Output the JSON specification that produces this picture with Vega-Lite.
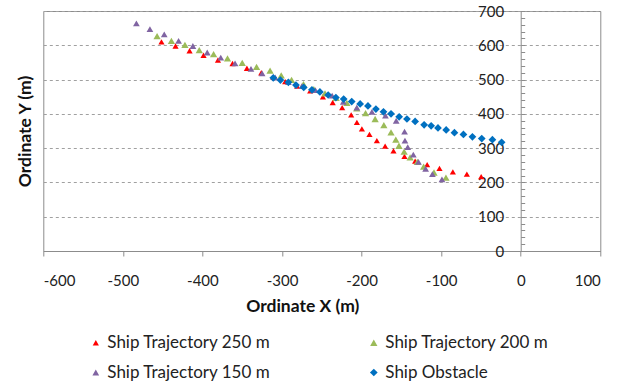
{
  "$schema": "https://vega.github.io/schema/vega-lite/v6.json",
  "autosize": "none",
  "width": 557,
  "height": 240,
  "padding": {"left": 43.3, "top": 11, "right": 25.7, "bottom": 134},
  "background": "white",
  "config": {
    "font": "Lato",
    "view": {"stroke": "#8c8c8c", "strokeWidth": 1},
    "axis": {"labelColor": "#222", "titleColor": "#111", "labelFont": "Lato", "titleFont": "Lato"}
  },
  "data": {"values": [
    {"s":"Ship Trajectory 250 m","x":-451.5,"y":610},{"s":"Ship Trajectory 250 m","x":-433.8,"y":598},{"s":"Ship Trajectory 250 m","x":-416.2,"y":584},{"s":"Ship Trajectory 250 m","x":-398.6,"y":571},{"s":"Ship Trajectory 250 m","x":-380.5,"y":557},{"s":"Ship Trajectory 250 m","x":-362.2,"y":547},{"s":"Ship Trajectory 250 m","x":-344.1,"y":533},{"s":"Ship Trajectory 250 m","x":-326.1,"y":520},{"s":"Ship Trajectory 250 m","x":-311,"y":507},{"s":"Ship Trajectory 250 m","x":-296,"y":494},{"s":"Ship Trajectory 250 m","x":-281,"y":481},{"s":"Ship Trajectory 250 m","x":-264.6,"y":467},{"s":"Ship Trajectory 250 m","x":-248.6,"y":450},{"s":"Ship Trajectory 250 m","x":-236.3,"y":433},{"s":"Ship Trajectory 250 m","x":-224.4,"y":418},{"s":"Ship Trajectory 250 m","x":-213.1,"y":397},{"s":"Ship Trajectory 250 m","x":-205.9,"y":375},{"s":"Ship Trajectory 250 m","x":-199.6,"y":356},{"s":"Ship Trajectory 250 m","x":-190.1,"y":340},{"s":"Ship Trajectory 250 m","x":-180.8,"y":322},{"s":"Ship Trajectory 250 m","x":-170.4,"y":306},{"s":"Ship Trajectory 250 m","x":-159.9,"y":292},{"s":"Ship Trajectory 250 m","x":-146.1,"y":276},{"s":"Ship Trajectory 250 m","x":-132.7,"y":262},{"s":"Ship Trajectory 250 m","x":-117.6,"y":252},{"s":"Ship Trajectory 250 m","x":-102.1,"y":241},{"s":"Ship Trajectory 250 m","x":-85.3,"y":231},{"s":"Ship Trajectory 250 m","x":-67.7,"y":224},{"s":"Ship Trajectory 250 m","x":-49.7,"y":217},
    {"s":"Ship Trajectory 200 m","x":-457,"y":627},{"s":"Ship Trajectory 200 m","x":-439,"y":613},{"s":"Ship Trajectory 200 m","x":-422,"y":601},{"s":"Ship Trajectory 200 m","x":-404,"y":586},{"s":"Ship Trajectory 200 m","x":-386,"y":574},{"s":"Ship Trajectory 200 m","x":-368.5,"y":562},{"s":"Ship Trajectory 200 m","x":-350,"y":549},{"s":"Ship Trajectory 200 m","x":-332,"y":537},{"s":"Ship Trajectory 200 m","x":-315,"y":526},{"s":"Ship Trajectory 200 m","x":-301,"y":512},{"s":"Ship Trajectory 200 m","x":-288,"y":499},{"s":"Ship Trajectory 200 m","x":-273,"y":487},{"s":"Ship Trajectory 200 m","x":-260,"y":472},{"s":"Ship Trajectory 200 m","x":-246,"y":460},{"s":"Ship Trajectory 200 m","x":-232,"y":447},{"s":"Ship Trajectory 200 m","x":-218.5,"y":432},{"s":"Ship Trajectory 200 m","x":-206,"y":416},{"s":"Ship Trajectory 200 m","x":-195,"y":402},{"s":"Ship Trajectory 200 m","x":-183,"y":385},{"s":"Ship Trajectory 200 m","x":-172,"y":367},{"s":"Ship Trajectory 200 m","x":-163,"y":346},{"s":"Ship Trajectory 200 m","x":-157,"y":325},{"s":"Ship Trajectory 200 m","x":-153,"y":307},{"s":"Ship Trajectory 200 m","x":-146.5,"y":290},{"s":"Ship Trajectory 200 m","x":-139,"y":273},{"s":"Ship Trajectory 200 m","x":-130,"y":260},{"s":"Ship Trajectory 200 m","x":-122,"y":246},{"s":"Ship Trajectory 200 m","x":-109,"y":229},{"s":"Ship Trajectory 200 m","x":-94,"y":214},
    {"s":"Ship Trajectory 150 m","x":-483,"y":664},{"s":"Ship Trajectory 150 m","x":-466,"y":647},{"s":"Ship Trajectory 150 m","x":-448,"y":632},{"s":"Ship Trajectory 150 m","x":-430,"y":613},{"s":"Ship Trajectory 150 m","x":-412,"y":598},{"s":"Ship Trajectory 150 m","x":-394,"y":579},{"s":"Ship Trajectory 150 m","x":-377,"y":564},{"s":"Ship Trajectory 150 m","x":-359,"y":547},{"s":"Ship Trajectory 150 m","x":-339,"y":531},{"s":"Ship Trajectory 150 m","x":-325,"y":518},{"s":"Ship Trajectory 150 m","x":-308.5,"y":506},{"s":"Ship Trajectory 150 m","x":-292,"y":493},{"s":"Ship Trajectory 150 m","x":-275,"y":481},{"s":"Ship Trajectory 150 m","x":-258,"y":469},{"s":"Ship Trajectory 150 m","x":-237,"y":453},{"s":"Ship Trajectory 150 m","x":-223,"y":435},{"s":"Ship Trajectory 150 m","x":-206,"y":418},{"s":"Ship Trajectory 150 m","x":-187,"y":406},{"s":"Ship Trajectory 150 m","x":-170,"y":395},{"s":"Ship Trajectory 150 m","x":-156.5,"y":380},{"s":"Ship Trajectory 150 m","x":-146,"y":348},{"s":"Ship Trajectory 150 m","x":-145.5,"y":322},{"s":"Ship Trajectory 150 m","x":-142,"y":303},{"s":"Ship Trajectory 150 m","x":-135,"y":281},{"s":"Ship Trajectory 150 m","x":-128.5,"y":260},{"s":"Ship Trajectory 150 m","x":-119.5,"y":240},{"s":"Ship Trajectory 150 m","x":-111,"y":224},{"s":"Ship Trajectory 150 m","x":-99,"y":209},
    {"s":"Ship Obstacle","x":-311,"y":505},{"s":"Ship Obstacle","x":-302,"y":498.5},{"s":"Ship Obstacle","x":-292,"y":492},{"s":"Ship Obstacle","x":-282.5,"y":484},{"s":"Ship Obstacle","x":-272.7,"y":477},{"s":"Ship Obstacle","x":-262.4,"y":470},{"s":"Ship Obstacle","x":-252.4,"y":464},{"s":"Ship Obstacle","x":-242,"y":455},{"s":"Ship Obstacle","x":-232.3,"y":447.5},{"s":"Ship Obstacle","x":-222.5,"y":443},{"s":"Ship Obstacle","x":-212.4,"y":436},{"s":"Ship Obstacle","x":-201.8,"y":429},{"s":"Ship Obstacle","x":-192,"y":423},{"s":"Ship Obstacle","x":-182,"y":414},{"s":"Ship Obstacle","x":-172.5,"y":406},{"s":"Ship Obstacle","x":-163,"y":400},{"s":"Ship Obstacle","x":-152.8,"y":391.5},{"s":"Ship Obstacle","x":-143,"y":385},{"s":"Ship Obstacle","x":-132.7,"y":378},{"s":"Ship Obstacle","x":-121.4,"y":368},{"s":"Ship Obstacle","x":-112.6,"y":365},{"s":"Ship Obstacle","x":-104,"y":359},{"s":"Ship Obstacle","x":-93.7,"y":353},{"s":"Ship Obstacle","x":-83.3,"y":345},{"s":"Ship Obstacle","x":-72,"y":340},{"s":"Ship Obstacle","x":-60.7,"y":333},{"s":"Ship Obstacle","x":-49,"y":328},{"s":"Ship Obstacle","x":-35.6,"y":324.5},{"s":"Ship Obstacle","x":-24,"y":317}
  ]},
  "resolve": {"axis": {"y": "independent"}},
  "layer": [
    {
      "mark": {"type": "point", "filled": true, "opacity": 1, "strokeWidth": 0},
      "encoding": {
        "x": {"field": "x", "type": "quantitative",
          "scale": {"domain": [-600, 100], "nice": false, "zero": false},
          "axis": {"values": [-600,-500,-400,-300,-200,-100,0,100], "labelExpr": "'' + datum.value", "title": "Ordinate X (m)", "grid": false,
            "labelFontSize": 15, "labelPadding": 17, "tickSize": 5, "tickColor": "#8c8c8c", "domainColor": "#8c8c8c",
            "titleFontSize": 17.5, "titleFontWeight": "bold", "titleX": 259, "titleY": 55, "titleBaseline": "middle"}},
        "y": {"field": "y", "type": "quantitative",
          "scale": {"domain": [0, 700], "nice": false},
          "axis": {"orient": "left", "offset": -477.4, "values": [0,100,200,300,400,500,600,700], "ticks": false,
            "labelFontSize": 15, "labelPadding": 17, "domainColor": "#8c8c8c",
            "grid": true, "gridDash": [3, 3], "gridColor": "#a0a0a0", "gridWidth": 1,
            "title": "Ordinate Y (m)", "titleFontSize": 17.5, "titleFontWeight": "bold", "titleX": -495, "titleBaseline": "middle"}},
        "color": {"field": "s", "type": "nominal",
          "scale": {"domain": ["Ship Trajectory 250 m","Ship Trajectory 150 m","Ship Trajectory 200 m","Ship Obstacle"],
                    "range": ["#ff0000","#8064a2","#9bbb59","#0070c0"]},
          "legend": {"orient": "none", "legendX": 44, "legendY": 323, "columns": 2, "title": null,
            "labelFontSize": 17, "labelColor": "#222", "labelLimit": 0, "labelOffset": 3, "columnPadding": 94, "rowPadding": 12, "padding": 0, "symbolStrokeWidth": 0}},
        "shape": {"field": "s", "type": "nominal",
          "scale": {"domain": ["Ship Trajectory 250 m","Ship Trajectory 150 m","Ship Trajectory 200 m","Ship Obstacle"],
                    "range": ["triangle-up","triangle-up","triangle-up","diamond"]}},
        "size": {"field": "s", "type": "nominal",
          "scale": {"domain": ["Ship Trajectory 250 m","Ship Trajectory 150 m","Ship Trajectory 200 m","Ship Obstacle"],
                    "range": [38, 60, 60, 50]}}
      }
    },
    {
      "mark": {"type": "point", "opacity": 0},
      "encoding": {
        "x": {"field": "x", "type": "quantitative"},
        "y": {"field": "y", "type": "quantitative",
          "axis": {"orient": "right", "offset": -79.6, "values": [0,20,40,60,80,100,120,140,160,180,200,220,240,260,280,300,320,340,360,380,400,420,440,460,480,500,520,540,560,580,600,620,640,660,680,700],
            "labels": false, "domain": false, "grid": false, "ticks": true, "tickSize": 4, "tickColor": "#8c8c8c", "title": null}}
      }
    }
  ]
}
